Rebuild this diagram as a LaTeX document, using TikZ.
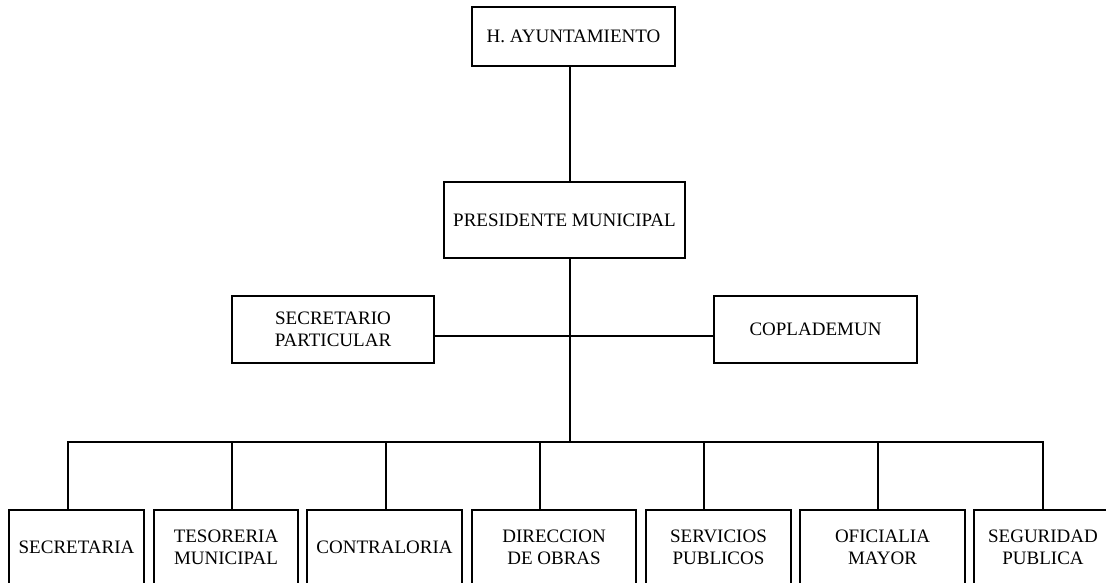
\documentclass[tikz,border=0pt]{standalone}
\usepackage{fontspec}
\setmainfont{Liberation Serif}
\usepackage{tikz}
\usetikzlibrary{calc, positioning}

\tikzset{
	unit/.style={draw, line width=1.6pt, align=center, inner sep=0pt,
		font=\fontsize{19}{22}\selectfont},
	link/.style={line width=1.6pt}
}

\begin{document}
\begin{tikzpicture}[x=1pt, y=-1pt]
			% Frame of the picture
			\useasboundingbox (0,0) rectangle (1106,583);
			\clip (0,0) rectangle (1106,583);
			
			% Top of the chart
			\node[unit, minimum width=203pt, minimum height=59pt] (ayunt) at (573.5,36.5) {H. AYUNTAMIENTO};
			\node[unit, minimum width=241pt, minimum height=76pt] (pres) at (564.5,220) {PRESIDENTE MUNICIPAL};
			
			% Staff units beside the president
			\node[unit, minimum width=202pt, minimum height=67pt] (secpart) at (333,329.5) {SECRETARIO\\PARTICULAR};
			\node[unit, minimum width=203pt, minimum height=67pt] (copla) at (815.5,329.5) {COPLADEMUN};
			
			% Departments
			\node[unit, minimum width=135pt, minimum height=75pt] (secr) at (76.5,547.5) {SECRETARIA};
			\node[unit, minimum width=144pt, minimum height=75pt] (teso) at (226,547.5) {TESORERIA\\MUNICIPAL};
			\node[unit, minimum width=155pt, minimum height=75pt] (contr) at (384.5,547.5) {CONTRALORIA};
			\node[unit, minimum width=164pt, minimum height=75pt] (direc) at (554,547.5) {DIRECCION\\DE OBRAS};
			\node[unit, minimum width=145pt, minimum height=75pt] (serv) at (718.5,547.5) {SERVICIOS\\PUBLICOS};
			\node[unit, minimum width=165pt, minimum height=75pt] (ofic) at (882.5,547.5) {OFICIALIA\\MAYOR};
			\node[unit, minimum width=138pt, minimum height=75pt] (segur) at (1043,547.5) {SEGURIDAD\\PUBLICA};
			
			% Main line down the middle
			\coordinate (side) at (570,336);
			\coordinate (bus) at (570,442);
			\draw[link] (bus |- ayunt.south) -- (bus |- pres.north);
			\draw[link] (bus |- pres.south) -- (bus);
			\draw[link] (secpart.east |- side) -- (copla.west |- side);
			
			% Branches to the departments
			\foreach \n/\dx in {secr/-8.5, teso/6, contr/1.5, direc/-14, serv/-14.5, ofic/-4.5, segur/0}
				\draw[link] ([xshift=\dx pt]\n.north) |- (bus);
		\end{tikzpicture}
\end{document}
